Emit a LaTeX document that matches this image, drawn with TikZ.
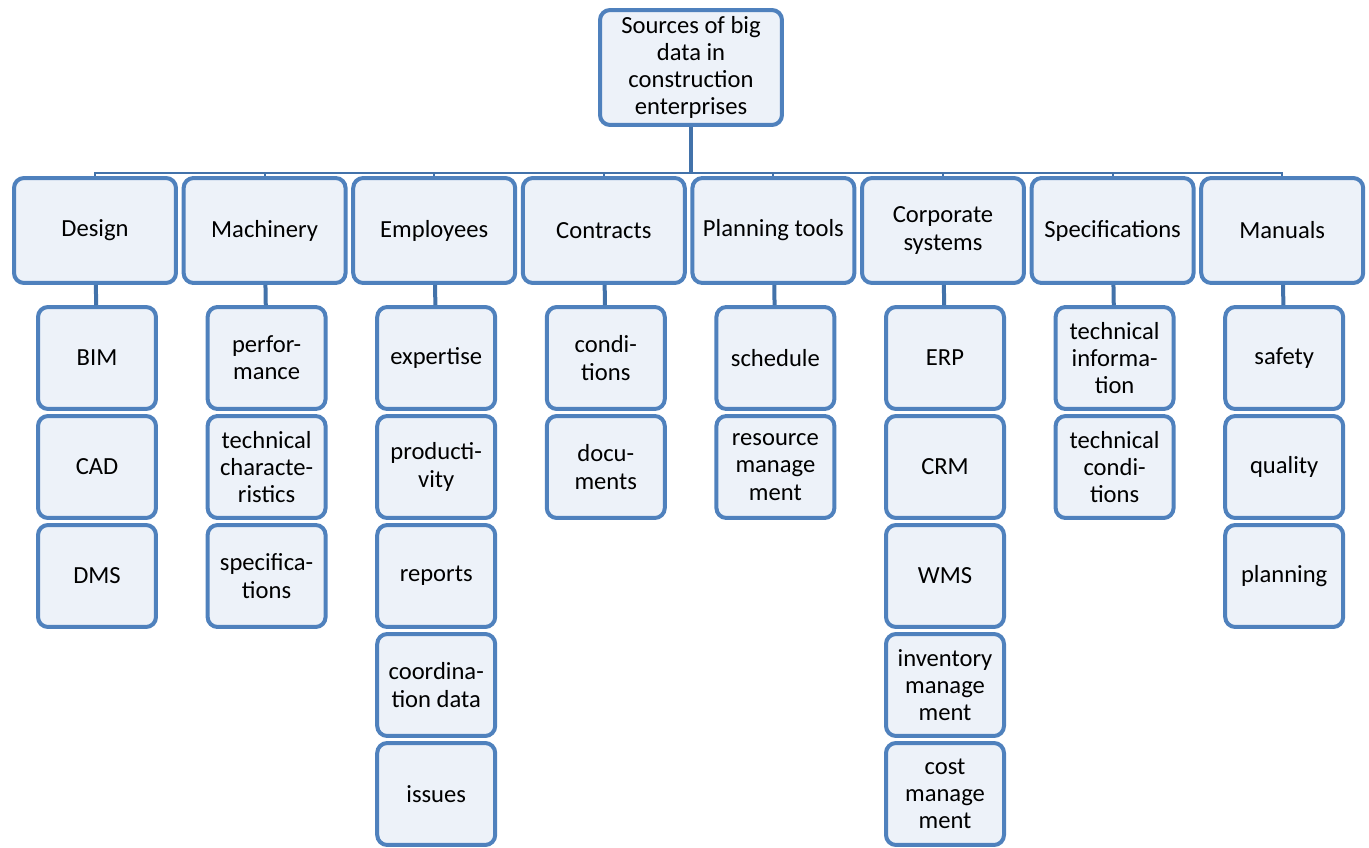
\documentclass[tikz,border=0pt]{standalone}
\usepackage{fontspec}
\setmainfont{Carlito}
\usepackage{tikz}

\definecolor{boxline}{HTML}{4F81BD}
\definecolor{boxfill}{HTML}{EDF2F9}
\definecolor{linkline}{HTML}{4272AA}

\begin{document}
\begin{tikzpicture}[
    x=0.02cm, y=-0.02cm,
    every node/.style={font=\fontsize{14}{15.5}\selectfont},
    root/.style={rectangle, draw=boxline, fill=boxfill, line width=0.08cm, rounded corners=0.2cm, minimum width=3.64cm, minimum height=2.3cm, align=center, inner sep=0pt},
    category/.style={rectangle, draw=boxline, fill=boxfill, line width=0.08cm, rounded corners=0.2cm, minimum width=3.24cm, minimum height=2.1cm, align=center, inner sep=0pt},
    item/.style={rectangle, draw=boxline, fill=boxfill, line width=0.08cm, rounded corners=0.2cm, minimum width=2.36cm, minimum height=2.04cm, align=center, inner sep=0pt},
    link/.style={draw=linkline, line width=0.08cm}
]
\useasboundingbox (0,0) rectangle (1369,848);

% Raiz
\node[root] (root) at (691,67.5) {Sources of big\\data in\\construction\\enterprises};
\coordinate (bus) at (691,173);

% Categorias
\node[category] (design) at (95,230.5) {Design};
\node[category] (machinery) at (264.6,230.5) {Machinery};
\node[category] (employees) at (434.2,230.5) {Employees};
\node[category] (contracts) at (603.8,230.5) {Contracts};
\node[category] (planning) at (773.4,230.5) {Planning tools};
\node[category] (corporate) at (943,230.5) {Corporate\\systems};
\node[category] (specs) at (1112.6,230.5) {Specifications};
\node[category] (manuals) at (1282.2,230.5) {Manuals};

% Design
\node[item] (bim) at (97,358) {BIM};
\node[item] (cad) at (97,467) {CAD};
\node[item] (dms) at (97,576) {DMS};

% Machinery
\node[item] (perf) at (266.6,358) {perfor-\\mance};
\node[item] (techchar) at (266.6,467) {technical\\characte-\\ristics};
\node[item] (specif) at (266.6,576) {specifica-\\tions};

% Employees
\node[item] (expertise) at (436.2,358) {expertise};
\node[item] (productivity) at (436.2,467) {producti-\\vity};
\node[item] (reports) at (436.2,576) {reports};
\node[item] (coord) at (436.2,685) {coordina-\\tion data};
\node[item] (issues) at (436.2,794) {issues};

% Contracts
\node[item] (conditions) at (605.8,358) {condi-\\tions};
\node[item] (documents) at (605.8,467) {docu-\\ments};

% Planning tools
\node[item] (schedule) at (775.4,358) {schedule};
\node[item] (resource) at (775.4,467) {resource\\manage\\ment};

% Corporate systems
\node[item] (erp) at (945,358) {ERP};
\node[item] (crm) at (945,467) {CRM};
\node[item] (wms) at (945,576) {WMS};
\node[item] (inventory) at (945,685) {inventory\\manage\\ment};
\node[item] (cost) at (945,794) {cost\\manage\\ment};

% Specifications
\node[item] (techinfo) at (1114.6,358) {technical\\informa-\\tion};
\node[item] (techcond) at (1114.6,467) {technical\\condi-\\tions};

% Manuals
\node[item] (safety) at (1284.2,358) {safety};
\node[item] (quality) at (1284.2,467) {quality};
\node[item] (plan) at (1284.2,576) {planning};

% Conectores
\draw[link] (root.south) -- (bus);
\draw[link, line width=0.04cm] (bus) -| (design.north);
\draw[link, line width=0.04cm] (bus) -| (machinery.north);
\draw[link, line width=0.04cm] (bus) -| (employees.north);
\draw[link, line width=0.04cm] (bus) -| (contracts.north);
\draw[link, line width=0.04cm] (bus) -| (planning.north);
\draw[link, line width=0.04cm] (bus) -| (corporate.north);
\draw[link, line width=0.04cm] (bus) -| (specs.north);
\draw[link, line width=0.04cm] (bus) -| (manuals.north);
\draw[link] (design) -- (bim);
\draw[link] (machinery) -- (perf);
\draw[link] (employees) -- (expertise);
\draw[link] (contracts) -- (conditions);
\draw[link] (planning) -- (schedule);
\draw[link] (corporate) -- (erp);
\draw[link] (specs) -- (techinfo);
\draw[link] (manuals) -- (safety);

\end{tikzpicture}
\end{document}
